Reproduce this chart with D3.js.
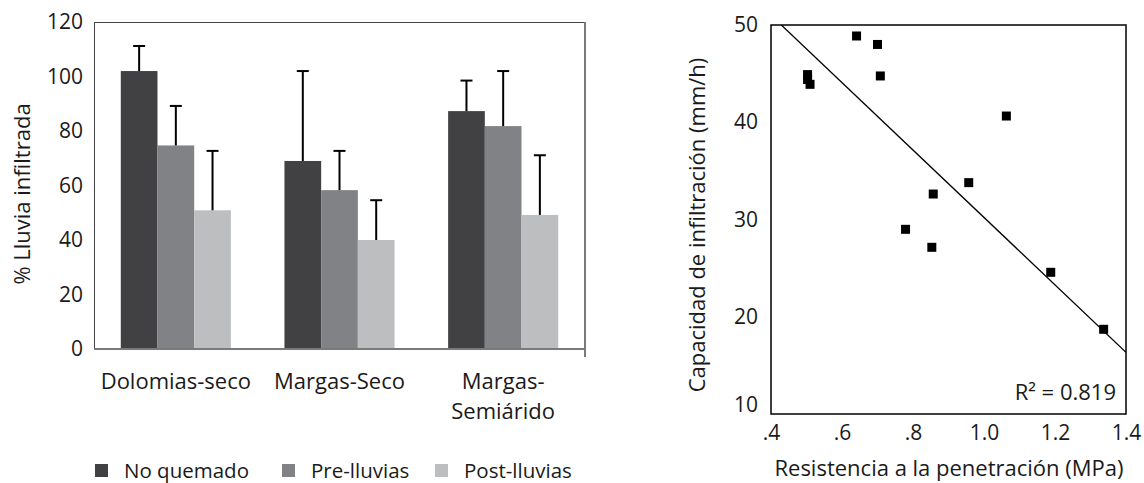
<!DOCTYPE html>
<html>
<head>
<meta charset="utf-8">
<script src="https://cdn.jsdelivr.net/npm/d3@7"></script>
<style>
  html, body { margin: 0; padding: 0; background: #fff; }
  svg text { font-family: "Open Sans", sans-serif; fill: #1a1a1a; }
</style>
</head>
<body>
<svg id="chart" width="1144" height="483"></svg>
<script>
// ---- Bar chart data: % of rainfall infiltrated ----
const categories = ["Dolomias-seco", "Margas-Seco", "Margas-Semiárido"];
const categoryLines = [["Dolomias-seco"], ["Margas-Seco"], ["Margas-", "Semiárido"]];
const seriesNames = ["No quemado", "Pre-lluvias", "Post-lluvias"];
const noQuemado   = [102.0, 69.0, 87.3];
const preLluvias  = [74.7, 58.3, 81.8];
const postLluvias = [50.9, 40.0, 49.2];
const errNoQuemado   = [9.2, 33.0, 11.2];
const errPreLluvias  = [14.5, 14.4, 20.2];
const errPostLluvias = [21.8, 14.6, 21.9];
const barTicks = [0, 20, 40, 60, 80, 100, 120];

// ---- Scatter data: penetration resistance vs infiltration capacity ----
const resistencia = [0.641, 0.700, 0.708, 0.503, 0.503, 0.510, 1.063, 0.957, 0.857, 0.779, 0.853, 1.188, 1.337];
const infiltracion = [48.87, 48.0, 44.76, 44.9, 44.4, 43.9, 40.64, 33.79, 32.62, 28.99, 27.14, 24.57, 18.71];
const trendIntercept = 64.87;
const trendSlope = -34.66;
const rSquared = "0.819";
const scatterXTicks = [0.4, 0.6, 0.8, 1.0, 1.2, 1.4];
const scatterYTicks = [10, 20, 30, 40, 50];

const colors = ["#414143", "#818285", "#bdbec0"];
const svg = d3.select("#chart");
const FS_TICK = 21, FS_LABEL = 22, FS_LEGEND = 20.5;
const FONT = "'Open Sans', sans-serif";

// ================= Bar chart =================
const bL = 94, bR = 585, bT = 22, bB = 349;
const x0 = d3.scaleBand().domain(categories).range([bL, bR]).padding(0);
const x1 = d3.scaleBand().domain(seriesNames).range([0, x0.bandwidth()]).paddingInner(0).paddingOuter(0.73);
const yB = d3.scaleLinear().domain([0, 120]).range([bB, bT]);

const seriesVals = [noQuemado, preLluvias, postLluvias];
const seriesErr = [errNoQuemado, errPreLluvias, errPostLluvias];
const barData = [];
categories.forEach((c, i) => {
  seriesNames.forEach((s, j) => {
    barData.push({ cat: c, ser: s, j, v: seriesVals[j][i], e: seriesErr[j][i] });
  });
});

svg.append("g").selectAll("rect").data(barData).join("rect")
  .attr("x", d => x0(d.cat) + x1(d.ser))
  .attr("y", d => yB(d.v))
  .attr("width", x1.bandwidth())
  .attr("height", d => yB(0) - yB(d.v))
  .attr("fill", d => colors[d.j]);

// error bars (upper only)
const eb = svg.append("g").attr("stroke", "#000").attr("stroke-width", 2);
barData.forEach(d => {
  const cx = x0(d.cat) + x1(d.ser) + x1.bandwidth() / 2;
  eb.append("line").attr("x1", cx).attr("x2", cx).attr("y1", yB(d.v)).attr("y2", yB(d.v + d.e));
  eb.append("line").attr("x1", cx - 6).attr("x2", cx + 6).attr("y1", yB(d.v + d.e)).attr("y2", yB(d.v + d.e));
});

// plot frame
svg.append("line").attr("x1", bL).attr("x2", bR).attr("y1", bT + 0.5).attr("y2", bT + 0.5).attr("stroke", "#444").attr("stroke-width", 1);
svg.append("line").attr("x1", bL + 0.5).attr("x2", bL + 0.5).attr("y1", bT).attr("y2", bB).attr("stroke", "#444").attr("stroke-width", 1);
svg.append("line").attr("x1", bL).attr("x2", bR + 1).attr("y1", bB).attr("y2", bB).attr("stroke", "#7a7a7a").attr("stroke-width", 2);
svg.append("line").attr("x1", bR).attr("x2", bR).attr("y1", bT).attr("y2", bB + 8).attr("stroke", "#7a7a7a").attr("stroke-width", 2);

// y axis labels
const yAxisB = svg.append("g").attr("transform", `translate(${bL},0)`)
  .call(d3.axisLeft(yB).tickValues(barTicks).tickSize(0).tickPadding(11));
yAxisB.select(".domain").remove();
yAxisB.selectAll("text").attr("font-size", FS_TICK).attr("font-family", FONT).attr("fill", "#1a1a1a");

svg.append("text").attr("transform", `translate(30,194) rotate(-90)`)
  .attr("text-anchor", "middle").attr("font-size", FS_LABEL).text("% Lluvia infiltrada");

// category labels
categories.forEach((c, i) => {
  const cx = x0(c) + x0.bandwidth() / 2;
  const t = svg.append("text").attr("text-anchor", "middle").attr("font-size", FS_LABEL);
  categoryLines[i].forEach((ln, k) => {
    t.append("tspan").attr("x", cx).attr("y", 389 + k * 30).text(ln);
  });
});

// legend
const legendX = [95, 282, 435];
seriesNames.forEach((s, j) => {
  svg.append("rect").attr("x", legendX[j]).attr("y", 464).attr("width", 13).attr("height", 13).attr("fill", colors[j]);
  svg.append("text").attr("x", legendX[j] + 29).attr("y", 478).attr("font-size", FS_LEGEND).text(s);
});

// ================= Scatter chart =================
const sL = 771, sR = 1126, sT = 25, sB = 414;
const xS = d3.scaleLinear().domain([0.4, 1.4]).range([sL, sR]);
const yS = d3.scaleLinear().domain([10, 50]).range([sB, sT]);

svg.append("defs").append("clipPath").attr("id", "plotclip")
  .append("rect").attr("x", sL).attr("y", sT).attr("width", sR - sL).attr("height", sB - sT);

// trend line
const trendPts = [0.4, 1.4].map(v => [xS(v), yS(trendIntercept + trendSlope * v)]);
svg.append("path").attr("clip-path", "url(#plotclip)")
  .attr("d", d3.line()(trendPts)).attr("stroke", "#000").attr("stroke-width", 1.3).attr("fill", "none");

// points
svg.append("g").selectAll("rect").data(resistencia.map((r, i) => [r, infiltracion[i]])).join("rect")
  .attr("x", d => xS(d[0]) - 4.5).attr("y", d => yS(d[1]) - 4.5)
  .attr("width", 9).attr("height", 9).attr("fill", "#000");

svg.append("rect").attr("x", sL).attr("y", sT).attr("width", sR - sL).attr("height", sB - sT)
  .attr("fill", "none").attr("stroke", "#000").attr("stroke-width", 1.5);

const yAxisS = svg.append("g").attr("transform", `translate(${sL},0)`)
  .call(d3.axisLeft(yS).tickValues(scatterYTicks).tickSize(0).tickPadding(13).tickFormat(d3.format("d")));
yAxisS.select(".domain").remove();
yAxisS.selectAll("text").attr("font-size", FS_TICK).attr("font-family", FONT).attr("fill", "#1a1a1a")
  .attr("dy", d => d === 10 ? "-0.1em" : "0.32em");

const xAxisS = svg.append("g").attr("transform", `translate(0,${sB})`)
  .call(d3.axisBottom(xS).tickValues(scatterXTicks).tickSize(0).tickPadding(11)
    .tickFormat(d => d < 1 ? d3.format(".1f")(d).replace(/^0/, "") : d3.format(".1f")(d)));
xAxisS.select(".domain").remove();
xAxisS.selectAll("text").attr("font-size", FS_TICK).attr("font-family", FONT).attr("fill", "#1a1a1a");

svg.append("text").attr("x", 1116).attr("y", 400).attr("text-anchor", "end").attr("font-size", FS_LABEL)
  .text("R² = " + rSquared);

svg.append("text").attr("x", 949).attr("y", 476).attr("text-anchor", "middle").attr("font-size", FS_LABEL)
  .text("Resistencia a la penetración (MPa)");

svg.append("text").attr("transform", `translate(705,225) rotate(-90)`)
  .attr("text-anchor", "middle").attr("font-size", FS_LABEL).text("Capacidad de infiltración (mm/h)");
</script>
</body>
</html>
